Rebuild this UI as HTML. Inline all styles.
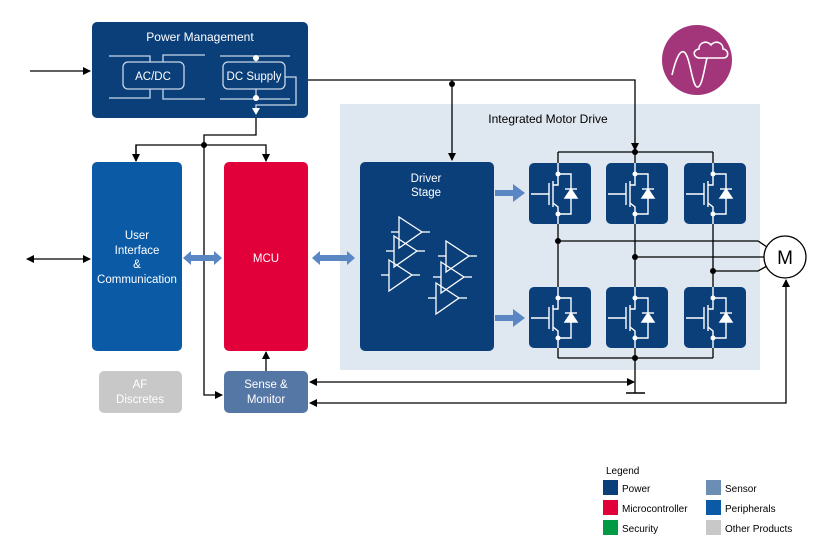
<!DOCTYPE html>
<html><head><meta charset="utf-8"><style>
body{margin:0;background:#fff;}
svg{display:block;font-family:"Liberation Sans",Arial,sans-serif;}
</style></head><body>
<svg width="821" height="547" viewBox="0 0 821 547" xmlns="http://www.w3.org/2000/svg">
<defs>
<marker id="ah" markerWidth="8" markerHeight="8" refX="7" refY="4" orient="auto" markerUnits="userSpaceOnUse"><path d="M0,0 L8,4 L0,8 Z" fill="#000"/></marker>
<marker id="ahs" markerWidth="8" markerHeight="8" refX="1" refY="4" orient="auto" markerUnits="userSpaceOnUse"><path d="M8,0 L0,4 L8,8 Z" fill="#000"/></marker>
<g id="tr" fill="none" stroke="#fff" stroke-width="1.4">
<rect x="0" y="0" width="62" height="61" rx="5" fill="#0b3f7a" stroke="none"/>
<line x1="29" y1="0" x2="29" y2="11"/><line x1="29" y1="51" x2="29" y2="61"/>
<line x1="2" y1="31" x2="20" y2="31"/><line x1="20" y1="20" x2="20" y2="42"/>
<line x1="24" y1="18" x2="24" y2="44"/>
<polyline points="24,22 29,22 29,11"/>
<polyline points="24,40 29,44 29,51"/>
<polyline points="29,11 42,11 42,51 29,51"/>
<polygon points="36,35 48,35 42,26" fill="#fff"/>
<line x1="36" y1="26" x2="48" y2="26"/>
<circle cx="29" cy="11" r="2.5" fill="#fff" stroke="none"/>
<circle cx="29" cy="51" r="2.5" fill="#fff" stroke="none"/>
</g>
<g id="amp" fill="none" stroke="#fff" stroke-width="1.3">
<polygon points="0,0 23,15 0,31"/><line x1="-8" y1="15" x2="0" y2="15"/><line x1="23" y1="15" x2="31" y2="15"/>
</g>
</defs>

<rect x="340" y="104" width="420" height="266" fill="#dfe8f0"/>
<text x="548" y="123" font-size="12" text-anchor="middle" fill="#000">Integrated Motor Drive</text>

<circle cx="697" cy="60" r="35" fill="#a3357a"/>
<path d="M672,75 C676,58 680,50 684,52 C690,55 692,86 697,87 C702,88 704,70 707,58" fill="none" stroke="#fff" stroke-width="1.6"/>
<path d="M700,58 C693,58 692,50 699,49 C699,42 707,40 711,45 C715,40 723,42 723,49 C728,49 730,57 724,58 Z" fill="#a3357a" stroke="#fff" stroke-width="1.6"/>

<rect x="92" y="22" width="216" height="96" rx="5" fill="#0b3f7a"/>
<text x="200" y="41" font-size="12" text-anchor="middle" fill="#fff">Power Management</text>
<g fill="none" stroke="#c8d6e8" stroke-width="1.3">
<polyline points="109,56 150,56 150,62"/><polyline points="205,55 163,55 163,62"/>
<polyline points="109,98 150,98 150,89"/><polyline points="205,99 163,99 163,89"/>
<rect x="123" y="62" width="61" height="27" rx="5"/>
<line x1="220" y1="56" x2="290" y2="56"/><line x1="256" y1="56" x2="256" y2="62"/>
<line x1="220" y1="99" x2="290" y2="99"/><line x1="256" y1="89" x2="256" y2="99"/>
<rect x="223" y="62" width="62" height="27" rx="5"/>
<polyline points="285,77 296,77 296,105 256,105 256,108"/>
</g>
<polygon points="252,108 260,108 256,115" fill="#fff"/>
<circle cx="256" cy="58" r="3" fill="#fff"/><circle cx="256" cy="98" r="3" fill="#fff"/>
<text x="153" y="80" font-size="11.5" text-anchor="middle" fill="#fff">AC/DC</text>
<text x="254" y="80" font-size="11.5" text-anchor="middle" fill="#fff">DC Supply</text>

<g fill="none" stroke="#000" stroke-width="1.3">
<line x1="30" y1="71" x2="90" y2="71" marker-end="url(#ah)"/>
<line x1="27" y1="259" x2="90" y2="259" marker-end="url(#ah)" marker-start="url(#ahs)"/>
<polyline points="308,80 635,80 635,150" marker-end="url(#ah)"/>
<line x1="452" y1="84" x2="452" y2="160" marker-end="url(#ah)"/>
<polyline points="256,118 256,135 204,135 204,395 222,395" marker-end="url(#ah)"/>
<polyline points="136,161 136,145 266,145 266,161" marker-end="url(#ah)"/>
<line x1="136" y1="145" x2="136" y2="161" marker-end="url(#ah)"/>
<line x1="266" y1="371" x2="266" y2="352" marker-end="url(#ah)"/>
<line x1="310" y1="382" x2="634" y2="382" marker-start="url(#ahs)" marker-end="url(#ah)"/>
<polyline points="310,403 786,403 786,280" marker-start="url(#ahs)" marker-end="url(#ah)"/>
<line x1="558" y1="152" x2="713" y2="152"/>
<line x1="558" y1="152" x2="558" y2="358"/>
<line x1="635" y1="150" x2="635" y2="393"/>
<line x1="713" y1="152" x2="713" y2="358"/>
<line x1="558" y1="358" x2="713" y2="358"/>
<line x1="626" y1="393" x2="645" y2="393" stroke-width="1.6"/>
<polyline points="558,241 758,241 767,247"/>
<polyline points="635,257 764,257"/>
<polyline points="713,271 758,271 767,266"/>
</g>
<line x1="452" y1="80" x2="452" y2="84" stroke="#000" stroke-width="1.3"/>
<circle cx="452" cy="84" r="3" fill="#000"/>
<circle cx="204" cy="145" r="3" fill="#000"/>
<circle cx="635" cy="152" r="3" fill="#000"/>
<circle cx="635" cy="358" r="3" fill="#000"/>
<circle cx="558" cy="241" r="3" fill="#000"/>
<circle cx="635" cy="257" r="3" fill="#000"/>
<circle cx="713" cy="271" r="3" fill="#000"/>
<circle cx="785" cy="257" r="21" fill="#fff" stroke="#000" stroke-width="1.3"/>
<text x="785" y="264" font-size="19" text-anchor="middle" fill="#000">M</text>

<rect x="92" y="162" width="90" height="189" rx="5" fill="#0a5aa6"/>
<text font-size="11.5" fill="#fff" text-anchor="middle"><tspan x="137" y="239">User</tspan><tspan x="137" y="254">Interface</tspan><tspan x="137" y="268">&amp;</tspan><tspan x="137" y="283">Communication</tspan></text>
<rect x="224" y="162" width="84" height="189" rx="5" fill="#e2003a"/>
<text x="266" y="262" font-size="11.5" fill="#fff" text-anchor="middle">MCU</text>
<rect x="99" y="371" width="83" height="42" rx="5" fill="#c8c8c8"/>
<text font-size="11.5" fill="#fff" text-anchor="middle"><tspan x="140" y="388">AF</tspan><tspan x="140" y="403">Discretes</tspan></text>
<rect x="224" y="371" width="84" height="42" rx="5" fill="#5577a6"/>
<text font-size="11.5" fill="#fff" text-anchor="middle"><tspan x="266" y="388">Sense &amp;</tspan><tspan x="266" y="403">Monitor</tspan></text>

<g fill="#5b86c4">
<polygon points="183,258 191,251 191,255 214,255 214,251 222,258 214,265 214,261 191,261 191,265"/>
<polygon points="312,258 320,251 320,255 347,255 347,251 355,258 347,265 347,261 320,261 320,265"/>
<polygon points="495,190 513,190 513,184 525,193 513,202 513,196 495,196"/>
<polygon points="495,315 513,315 513,309 525,318 513,327 513,321 495,321"/>
</g>

<rect x="360" y="162" width="134" height="189" rx="5" fill="#0b3f7a"/>
<text font-size="11.5" fill="#fff" text-anchor="middle"><tspan x="426" y="182">Driver</tspan><tspan x="426" y="196">Stage</tspan></text>
<use href="#amp" x="399" y="217"/>
<use href="#amp" x="394" y="236"/>
<use href="#amp" x="389" y="260"/>
<use href="#amp" x="446" y="241"/>
<use href="#amp" x="441" y="262"/>
<use href="#amp" x="436" y="283"/>

<use href="#tr" x="529" y="163"/>
<use href="#tr" x="606" y="163"/>
<use href="#tr" x="684" y="163"/>
<use href="#tr" x="529" y="287"/>
<use href="#tr" x="606" y="287"/>
<use href="#tr" x="684" y="287"/>

<g font-size="10" fill="#000">
<text x="606" y="474">Legend</text>
<rect x="603" y="480" width="15" height="15" fill="#0b3f7a"/><text x="622" y="492">Power</text>
<rect x="603" y="500" width="15" height="15" fill="#e2003a"/><text x="622" y="512">Microcontroller</text>
<rect x="603" y="520" width="15" height="15" fill="#009a44"/><text x="622" y="532">Security</text>
<rect x="706" y="480" width="15" height="15" fill="#6b8fb4"/><text x="725" y="492">Sensor</text>
<rect x="706" y="500" width="15" height="15" fill="#0a5aa6"/><text x="725" y="512">Peripherals</text>
<rect x="706" y="520" width="15" height="15" fill="#c8c8c8"/><text x="725" y="532">Other Products</text>
</g>
</svg>
</body></html>
